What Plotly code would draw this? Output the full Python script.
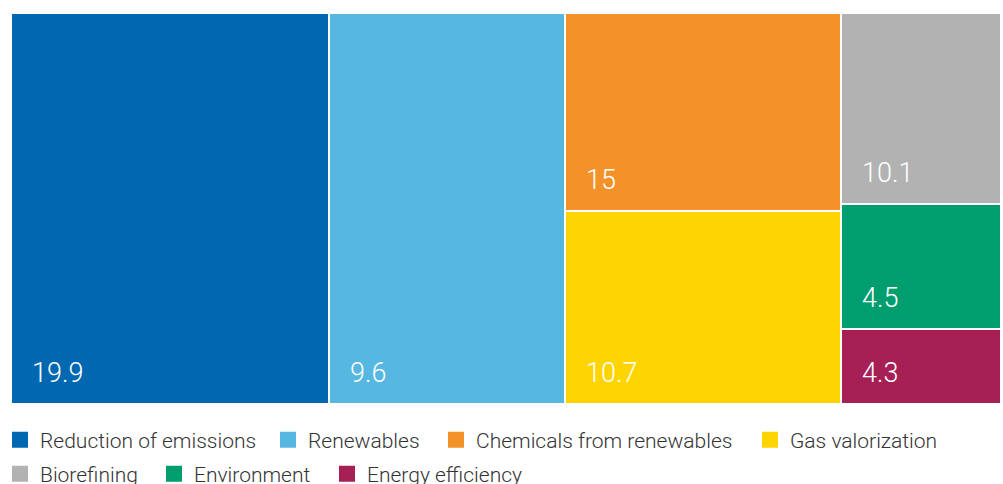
import plotly.graph_objects as go

# ---- data ----
categories = ["Reduction of emissions", "Renewables", "Chemicals from renewables",
              "Gas valorization", "Biorefining", "Environment", "Energy efficiency"]
values = [19.9, 9.6, 15, 10.7, 10.1, 4.5, 4.3]

# ---- layout of blocks (relative pixel sizes of the reference mosaic) ----
block_column = [0, 1, 2, 2, 3, 3, 3]
column_widths = [317, 236, 275, 160]
block_heights = [389, 389, 197, 192, 190, 124, 75]

# ---- legend placement (pixel x of each entry, pixel y of each row) ----
legend_x_px = [0, 268, 436, 750, 0, 154, 327]
legend_y_px = [440, 440, 440, 440, 474, 474, 474]

# ---- styles ----
colors = ["#0068B1", "#56B7E1", "#F29228", "#FFD400", "#B2B2B2", "#009E6E", "#A61F55"]
FONT = "Roboto"
W, H = 1003, 484
TOTAL_W = sum(column_widths)
TOTAL_H = 389

col_left = [sum(column_widths[:i]) for i in range(len(column_widths))]

fig = go.Figure()
annotations = []
legends = {}
col_top = {c: TOTAL_H for c in range(len(column_widths))}
for i, cat in enumerate(categories):
    c = block_column[i]
    h = block_heights[i]
    top = col_top[c]
    base = top - h
    col_top[c] = base
    w = column_widths[c]
    fig.add_trace(go.Bar(
        x=[col_left[c] + w / 2], y=[h], base=[base], width=[w],
        marker=dict(color=colors[i], line=dict(color="white", width=2)),
        name=cat, showlegend=False, hoverinfo="name+text", text=[str(values[i])],
        textposition="none",
    ))
    annotations.append(dict(
        x=col_left[c], y=base, xref="x", yref="y", text=str(values[i]),
        showarrow=False, xanchor="left", yanchor="bottom", xshift=19, yshift=13,
        font=dict(family=FONT, size=27, color="white", weight=300),
    ))
    lname = "legend" if i == 0 else f"legend{i + 1}"
    fig.add_trace(go.Scatter(
        x=[None], y=[None], mode="markers", name=cat, legend=lname,
        marker=dict(symbol="square", size=16, color=colors[i]),
    ))
    legends[lname] = dict(
        orientation="h", xref="container", yref="container",
        x=legend_x_px[i] / W, y=1 - legend_y_px[i] / H,
        xanchor="left", yanchor="middle", bgcolor="rgba(0,0,0,0)",
        font=dict(family=FONT, size=21, color="#333333", weight=300),
        itemclick=False, itemdoubleclick=False,
    )

fig.update_layout(
    width=W, height=H,
    margin=dict(l=11, r=2, t=13, b=80, pad=0),
    paper_bgcolor="white", plot_bgcolor="white",
    barmode="overlay", bargap=0,
    xaxis=dict(range=[0, TOTAL_W], visible=False, fixedrange=True),
    yaxis=dict(range=[0, TOTAL_H], visible=False, fixedrange=True),
    annotations=annotations,
    showlegend=True,
    **legends,
)

fig.write_html("out.html")
